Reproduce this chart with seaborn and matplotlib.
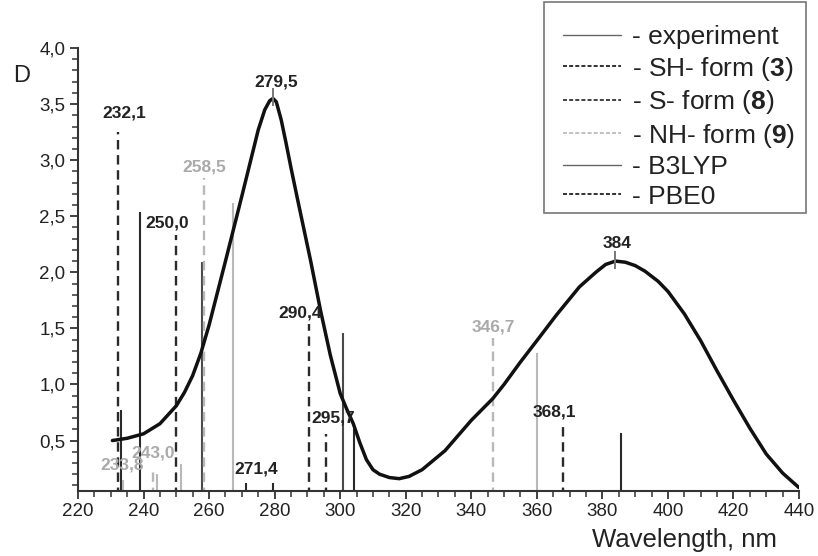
import matplotlib
matplotlib.use("Agg")
import matplotlib.pyplot as plt
from matplotlib.lines import Line2D
from matplotlib.patches import Rectangle
from matplotlib.ticker import MultipleLocator, FuncFormatter
import seaborn as sns
import pandas as pd

# ---------------- data ----------------
exp_x = [230.5, 235, 240, 245, 250, 252.5, 255, 257.5, 260, 265, 270, 275, 277, 278.5, 279.5,
         280.5, 282, 283.5, 285, 287, 291, 294, 297, 300, 302, 304, 306, 308, 310, 312,
         315, 318, 321, 325, 332, 340, 346.6, 350, 355, 360, 366, 373, 378, 381, 384,
         387, 390, 393, 397, 400, 405, 410, 415, 420, 425, 430, 435, 440]
exp_y = [0.50, 0.52, 0.56, 0.65, 0.81, 0.93, 1.08, 1.28, 1.53, 2.10, 2.68, 3.27, 3.45, 3.53, 3.55,
         3.52, 3.36, 3.15, 2.93, 2.65, 2.10, 1.66, 1.26, 0.92, 0.78, 0.65, 0.48, 0.33, 0.24, 0.20,
         0.17, 0.16, 0.18, 0.24, 0.41, 0.68, 0.875, 1.00, 1.20, 1.39, 1.62, 1.87, 2.00, 2.07, 2.10,
         2.09, 2.06, 2.01, 1.92, 1.83, 1.63, 1.39, 1.12, 0.86, 0.61, 0.38, 0.21, 0.08]

stick_x = [232.1, 233.1, 233.8, 238.9, 243.0, 244.1, 250.0, 251.5, 257.7, 258.5, 267.3,
           271.4, 279.5, 290.4, 295.7, 300.9, 304.3, 346.7, 360.1, 368.1, 385.6]
stick_h = [3.25, 0.77, 0.15, 2.54, 0.25, 0.20, 2.33, 0.29, 2.09, 2.84, 2.62,
           0.12, 0.12, 1.54, 0.56, 1.46, 0.60, 1.41, 1.28, 0.65, 0.57]
stick_form = ["SH", "SH", "NH", "SH", "NH", "NH", "SH", "NH", "S", "NH", "NH",
              "SH", "SH", "SH", "SH", "S", "SH", "NH", "NH", "SH", "SH"]
stick_method = ["PBE0", "B3LYP", "B3LYP", "B3LYP", "PBE0", "B3LYP", "PBE0", "B3LYP", "B3LYP",
                "PBE0", "B3LYP", "B3LYP", "B3LYP", "PBE0", "PBE0", "B3LYP", "B3LYP", "PBE0",
                "B3LYP", "PBE0", "B3LYP"]

label_text = ["232,1", "233,8", "243,0", "250,0", "258,5", "271,4", "279,5", "290,4",
              "295,7", "346,7", "368,1", "384"]
label_form = ["SH", "NH", "NH", "SH", "NH", "SH", "exp", "SH", "SH", "NH", "SH", "exp"]

peak_x = [279.5, 384]
peak_y = [3.55, 2.10]

legend_labels = ["- experiment", r"- SH- form ($\mathbf{3}$)", r"- S- form ($\mathbf{8}$)",
                 r"- NH- form ($\mathbf{9}$)", "- B3LYP", "- PBE0"]

# ---------------- layout / style ----------------
label_pos_x = [234.0, 233.4, 242.9, 247.2, 258.4, 274.5, 280.6, 287.7, 298.0, 346.8, 365.3, 384.5]
label_pos_y = [3.42, 0.28, 0.39, 2.44, 2.94, 0.25, 3.70, 1.64, 0.70, 1.51, 0.75, 2.26]

form_color = {"SH": "#2a2a2a", "S": "#4a4a4a", "NH": "#b8b8b8", "exp": "#222222"}
label_color = {"SH": "#222222", "S": "#333333", "NH": "#aaaaaa", "exp": "#222222"}
method_ls = {"B3LYP": "-", "PBE0": (0, (4, 2.4))}
method_lw = {"B3LYP": 1.5, "PBE0": 1.7}

sns.set_style("ticks")
plt.rcParams["font.family"] = ["Liberation Sans", "DejaVu Sans"]
plt.rcParams["mathtext.fontset"] = "custom"
plt.rcParams["mathtext.rm"] = "Liberation Sans"
plt.rcParams["mathtext.bf"] = "Liberation Sans:bold"

fig = plt.figure(figsize=(8.18, 5.56), dpi=100)
ax = fig.add_axes([78 / 818, 1 - 491 / 556, (799 - 78) / 818, (491 - 48) / 556])

# sticks
for x, h, f, m in zip(stick_x, stick_h, stick_form, stick_method):
    ax.vlines(x, 0, h, colors=form_color[f], linestyles=method_ls[m], lw=method_lw[m], zorder=2)

# experiment curve
df = pd.DataFrame({"Wavelength": exp_x, "D": exp_y})
sns.lineplot(data=df, x="Wavelength", y="D", ax=ax, color="#111111", lw=2.5,
             sort=False, estimator=None, zorder=4)
ax.lines[-1].set_solid_joinstyle("round")

# peak marks
for px, py in zip(peak_x, peak_y):
    ax.vlines(px, py - 0.07, py + 0.09, colors="#777777", lw=1.4, zorder=5)

# labels
for t, f, lx, ly in zip(label_text, label_form, label_pos_x, label_pos_y):
    ax.text(lx, ly, t, ha="center", va="center", fontsize=12.5, fontweight="bold",
            color=label_color[f], zorder=6)

ax.set_xlim(220, 440)
ax.set_ylim(0.05, 4.0)
ax.xaxis.set_major_locator(MultipleLocator(20))
ax.xaxis.set_minor_locator(MultipleLocator(5))
ax.yaxis.set_minor_locator(MultipleLocator(0.1))
ax.set_yticks([0.5, 1.0, 1.5, 2.0, 2.5, 3.0, 3.5, 4.0])
ax.yaxis.set_major_formatter(FuncFormatter(lambda v, p: f"{v:.1f}".replace(".", ",")))
ax.tick_params(axis="both", which="major", direction="out", length=6, width=1.3,
               color="#333333", labelsize=13.5, labelcolor="#222222", pad=3)
ax.tick_params(axis="both", which="minor", direction="out", length=4, width=1.1,
               color="#333333")
for s in ["top", "right"]:
    ax.spines[s].set_visible(False)
for s in ["left", "bottom"]:
    ax.spines[s].set_linewidth(1.5)
    ax.spines[s].set_color("#333333")
ax.set_xlabel("")
ax.set_ylabel("")

fig.text(13 / 818, 1 - 76 / 556, "D", fontsize=17, color="#222222", va="center", ha="left")
fig.text(685 / 818, 1 - 540 / 556, "Wavelength, nm", fontsize=18.5, color="#222222",
         va="center", ha="center")

# legend
dash = (0, (2.2, 1.2))
handles = [
    Line2D([], [], color="#666666", lw=1.0, ls="-"),
    Line2D([], [], color="#222222", lw=1.3, ls=dash),
    Line2D([], [], color="#333333", lw=1.3, ls=dash),
    Line2D([], [], color="#bbbbbb", lw=1.3, ls=dash),
    Line2D([], [], color="#666666", lw=1.0, ls="-"),
    Line2D([], [], color="#222222", lw=1.3, ls=dash),
]
leg = fig.legend(handles, legend_labels, loc="upper left",
                 bbox_to_anchor=(563 / 818, 1 - 25 / 556), fontsize=19, frameon=False,
                 handlelength=2.2, handletextpad=0.4, labelspacing=0.21, borderpad=0,
                 borderaxespad=0)
for t in leg.get_texts():
    t.set_color("#222222")
fig.patches.append(Rectangle((544 / 818, 1 - 213 / 556), 262 / 818, 211 / 556,
                             transform=fig.transFigure, fill=False, ec="#777777", lw=1.2))

fig.savefig("out.png", dpi=100)
